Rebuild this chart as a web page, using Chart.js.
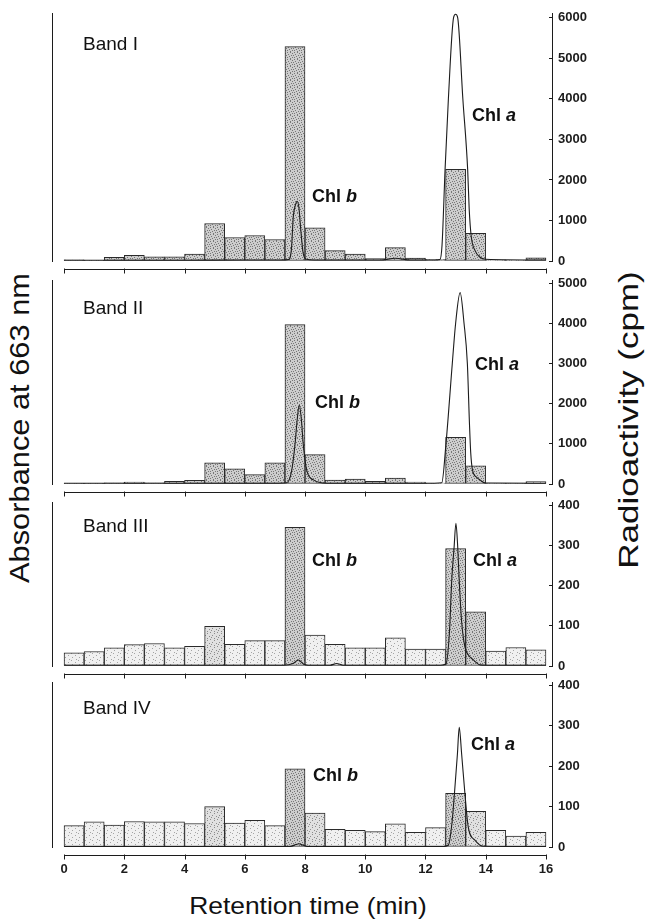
<!DOCTYPE html>
<html>
<head>
<meta charset="utf-8">
<script src="https://cdn.jsdelivr.net/npm/chart.js@4.4.1/dist/chart.umd.min.js"></script>
<style>
  body { margin: 0; background: #fff; }
  #wrap { position: relative; width: 654px; height: 919px; overflow: hidden;
          font-family: Arial, 'Liberation Sans', Helvetica, sans-serif; color: #111; }
  #wrap canvas { position: absolute; left: 0; }
  .lbl { position: absolute; white-space: nowrap; line-height: 1; transform: translateY(-50%); }
  .band { font-size: 19px; }
  .chl { font-size: 18px; font-weight: bold; }
  .title { position: absolute; white-space: nowrap; line-height: 1; font-size: 28px; }
</style>
</head>
<body>
<div id="wrap">
  <div class="title" style="left:20px;top:428px;transform:translate(-50%,-50%) rotate(-90deg) scaleX(1.1)">Absorbance at 663 nm</div>
  <div class="title" style="left:629px;top:420px;transform:translate(-50%,-50%) rotate(-90deg) scaleX(1.25)">Radioactivity (cpm)</div>
  <div class="title" style="left:308px;top:906px;font-size:24px;transform:translate(-50%,-50%) scaleX(1.1)">Retention time (min)</div>
</div>
<script>
// retention time axis (min)
const xTicks = [0, 2, 4, 6, 8, 10, 12, 14, 16];

// 20 s fractions, midpoints (min)
const fractionMid = [0.333, 1, 1.667, 2.333, 3, 3.667, 4.333, 5, 5.667, 6.333, 7, 7.667,
                     8.333, 9, 9.667, 10.333, 11, 11.667, 12.333, 13, 13.667, 14.333, 15, 15.667];

// radioactivity per fraction (cpm)
const cpmBandI   = [30, 15, 90, 140, 100, 100, 170, 925, 580, 630, 530, 5290, 820, 255, 170, 60, 330, 70, 40, 2260, 680, 30, 20, 80];
const cpmBandII  = [15, 15, 30, 50, 30, 65, 90, 530, 380, 235, 530, 3970, 730, 100, 125, 65, 150, 50, 25, 1160, 455, 25, 25, 60];
const cpmBandIII = [33, 36, 45, 53, 56, 45, 49, 99, 54, 63, 63, 345, 77, 54, 45, 45, 70, 42, 42, 292, 135, 37, 46, 40];
const cpmBandIV  = [53, 62, 54, 63, 62, 62, 58, 100, 59, 66, 53, 193, 84, 44, 41, 38, 57, 36, 48, 133, 88, 41, 27, 36];

// absorbance trace at 663 nm (relative, no scale on the figure)
const timeBandI = [0, 2, 4, 6, 7.2, 7.45, 7.55, 7.61, 7.68, 7.74, 7.8, 7.85, 7.94, 8.05, 8.3, 10.5, 11.0, 11.5, 12.3, 12.48, 12.55,
                   12.65, 12.76, 12.93, 13.0, 13.07, 13.24, 13.4, 13.45, 13.52, 13.65, 13.8, 14.0, 16];
const absBandI  = [0.003, 0.003, 0.003, 0.004, 0.004, 0.006, 0.049, 0.178, 0.225, 0.241, 0.212, 0.139, 0.031, 0.007, 0.004, 0.004, 0.011, 0.004, 0.004, 0.006, 0.065,
                   0.369, 0.654, 0.98, 0.995, 0.98, 0.654, 0.369, 0.212, 0.098, 0.041, 0.016, 0.007, 0.004];

const timeBandII = [0, 4, 7.0, 7.39, 7.55, 7.67, 7.74, 7.81, 7.88, 7.94, 8.06, 8.28, 8.72, 10, 12.3, 12.54, 12.68, 12.89, 13.0,
                    13.15, 13.28, 13.39, 13.46, 13.5, 13.56, 13.7, 13.81, 13.97, 16];
const absBandII  = [0.004, 0.004, 0.004, 0.006, 0.059, 0.197, 0.315, 0.387, 0.315, 0.197, 0.065, 0.020, 0.004, 0.004, 0.004, 0.006, 0.197, 0.591, 0.787,
                    0.938, 0.787, 0.591, 0.295, 0.157, 0.069, 0.033, 0.020, 0.005, 0.004];

const timeBandIII = [0, 7.3, 7.6, 7.78, 7.95, 8.1, 8.83, 9.05, 9.26, 12.5, 12.68, 12.8, 12.87, 12.95, 13.01, 13.07, 13.12, 13.2,
                     13.31, 13.45, 13.59, 13.81, 14, 16];
const absBandIII  = [0.005, 0.005, 0.015, 0.037, 0.012, 0.005, 0.005, 0.015, 0.005, 0.005, 0.012, 0.221, 0.52, 0.725, 0.87, 0.725, 0.52, 0.27,
                     0.115, 0.061, 0.037, 0.007, 0.005, 0.005];

const timeBandIV = [0, 7.5, 7.7, 7.8, 7.92, 8.1, 12.6, 12.76, 12.88, 12.96, 13.06, 13.12, 13.2, 13.31, 13.42, 13.64, 13.92, 16];
const absBandIV  = [0.003, 0.003, 0.015, 0.02, 0.012, 0.003, 0.003, 0.012, 0.147, 0.321, 0.564, 0.725, 0.564, 0.321, 0.12, 0.042, 0.005, 0.003];

// right axis tick labels
const cpmTicksI   = [0, 1000, 2000, 3000, 4000, 5000, 6000];
const cpmTicksII  = [0, 1000, 2000, 3000, 4000, 5000];
const cpmTicksIII = [0, 100, 200, 300, 400];
const cpmTicksIV  = [0, 100, 200, 300, 400];

const bandNames = ['Band I', 'Band II', 'Band III', 'Band IV'];

const FONT = "Arial, 'Liberation Sans', Helvetica, sans-serif";
const INK = '#1c1c1c';

// layout of the four stacked panels (padding >= 17 because of the tick label padding)
const panels = [
  { cpm: cpmBandI,   time: timeBandI,   abs: absBandI,   ticks: cpmTicksI,   max: 6120, top: -4,  height: 282, padTop: 17, padBottom: 17, bandY: 43,  chlB: [312, 196], chlA: [472, 115] },
  { cpm: cpmBandII,  time: timeBandII,  abs: absBandII,  ticks: cpmTicksII,  max: 5080, top: 263, height: 238, padTop: 17, padBottom: 17, bandY: 307, chlB: [315, 402], chlA: [475, 364] },
  { cpm: cpmBandIII, time: timeBandIII, abs: absBandIII, ticks: cpmTicksIII, max: 408,  top: 485, height: 198, padTop: 17, padBottom: 17, bandY: 525, chlB: [312, 560], chlA: [473, 560] },
  { cpm: cpmBandIV,  time: timeBandIV,  abs: absBandIV,  ticks: cpmTicksIV,  max: 408,  top: 665, height: 224, padTop: 17, padBottom: 0,  bandY: 707, chlB: [313, 775], chlA: [471, 744] }
];

function stipple(base, dot, size, dots) {
  const c = document.createElement('canvas');
  c.width = size; c.height = size;
  const g = c.getContext('2d');
  g.fillStyle = base;
  g.fillRect(0, 0, size, size);
  g.fillStyle = dot;
  dots.forEach(([x, y]) => g.fillRect(x, y, 1, 1));
  return g.createPattern(c, 'repeat');
}
// scattered dots so the fill reads as stipple rather than hatching
const dense  = stipple('#cdcdcd', '#777777', 7, [[0, 0], [3, 0], [5, 1], [1, 2], [4, 3], [6, 3], [2, 4], [0, 5], [5, 5], [3, 6]]);
const medium = stipple('#e0e0e0', '#8c8c8c', 7, [[0, 0], [4, 1], [2, 3], [6, 4], [1, 5], [4, 6]]);
const light  = stipple('#f0f0f0', '#a4a4a4', 7, [[1, 0], [5, 2], [2, 4], [6, 6]]);

// the retention-time axis sits a little below each panel and only spans 0-16
const timeAxisLine = {
  id: 'timeAxisLine',
  afterDraw(chart) {
    const x = chart.scales.x;
    const y = Math.round(chart.chartArea.bottom + 8) + 0.5;
    const ctx = chart.ctx;
    ctx.save();
    ctx.strokeStyle = INK;
    ctx.lineWidth = 1;
    ctx.beginPath();
    ctx.moveTo(x.getPixelForValue(xTicks[0]), y);
    ctx.lineTo(x.getPixelForValue(xTicks[xTicks.length - 1]), y);
    xTicks.forEach(v => {
      const px = Math.round(x.getPixelForValue(v)) + 0.5;
      ctx.moveTo(px, y - 1);
      ctx.lineTo(px, y + 4);
    });
    ctx.stroke();
    ctx.restore();
  }
};

const wrap = document.getElementById('wrap');

panels.forEach((p, idx) => {
  const isLast = idx === panels.length - 1;
  const canvas = document.createElement('canvas');
  canvas.width = 654;
  canvas.height = p.height;
  canvas.style.top = p.top + 'px';
  wrap.appendChild(canvas);

  new Chart(canvas, {
    type: 'bar',
    data: {
      datasets: [
        {
          type: 'line',
          label: 'A663',
          data: p.time.map((t, i) => ({ x: t, y: p.abs[i] })),
          yAxisID: 'yAbs',
          borderColor: INK,
          borderWidth: 1.1,
          pointRadius: 0,
          cubicInterpolationMode: 'monotone',
          order: 0
        },
        {
          type: 'bar',
          label: 'cpm',
          data: fractionMid.map((t, i) => ({ x: t, y: p.cpm[i] })),
          yAxisID: 'y',
          backgroundColor: (c) => {
            const v = c.raw ? c.raw.y : 0;
            if (idx < 2 || v >= 0.3 * p.max) return dense;
            if (v >= 0.2 * p.max) return medium;
            return light;
          },
          borderColor: '#2a2a2a',
          borderWidth: 1,
          borderSkipped: false,
          barPercentage: 1,
          categoryPercentage: 1,
          order: 1
        }
      ]
    },
    options: {
      responsive: false,
      animation: false,
      devicePixelRatio: 1,
      layout: { padding: { left: 52, right: 0, top: p.padTop, bottom: p.padBottom } },
      plugins: { legend: { display: false }, tooltip: { enabled: false } },
      scales: {
        x: {
          type: 'linear',
          offset: false,
          min: -0.4,
          max: 16.2,
          display: isLast,
          afterBuildTicks: s => { s.ticks = xTicks.map(v => ({ value: v })); },
          grid: { display: false, offset: false },
          border: { display: false },
          ticks: { font: { family: FONT, size: 13, weight: 'bold' }, color: INK, padding: 7, maxRotation: 0, autoSkip: false },
          afterFit: s => { s.height = isLast ? p.height - p.padTop - 165 : 0; }
        },
        yAbs: {
          type: 'linear',
          position: 'left',
          min: 0,
          max: 1,
          grid: { display: true, drawOnChartArea: false, drawTicks: false },
          border: { display: true, color: INK, width: 1 },
          ticks: { display: false },
          afterFit: s => { s.width = 0; }
        },
        y: {
          type: 'linear',
          position: 'right',
          min: 0,
          max: p.max,
          afterBuildTicks: s => { s.ticks = p.ticks.map(v => ({ value: v })); },
          grid: { display: true, drawOnChartArea: false, tickLength: -3, color: INK },
          border: { display: true, color: INK, width: 1 },
          ticks: { font: { family: FONT, size: 13, weight: 'bold' }, color: INK, padding: 9, callback: v => String(v) },
          afterFit: s => { s.width = 102; }
        }
      }
    },
    plugins: [timeAxisLine]
  });

  // panel name and peak labels
  const band = document.createElement('div');
  band.className = 'lbl band';
  band.style.left = '83px';
  band.style.top = p.bandY + 'px';
  band.textContent = bandNames[idx];
  wrap.appendChild(band);

  [['b', p.chlB], ['a', p.chlA]].forEach(([k, pos]) => {
    const d = document.createElement('div');
    d.className = 'lbl chl';
    d.style.left = pos[0] + 'px';
    d.style.top = pos[1] + 'px';
    d.innerHTML = 'Chl <i>' + k + '</i>';
    wrap.appendChild(d);
  });
});
</script>
</body>
</html>
